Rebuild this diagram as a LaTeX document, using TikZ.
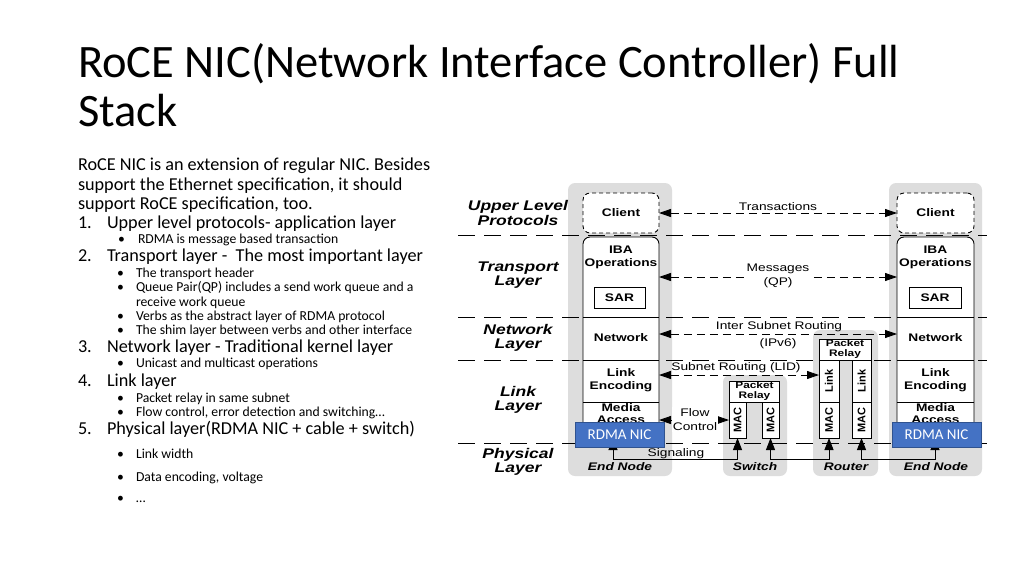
\documentclass[tikz,border=0pt]{standalone}
\usepackage{fontspec}
\setmainfont{Carlito}
\newfontfamily\dgf[FakeStretch=1.25]{Liberation Sans}
\newfontfamily\dgr{Liberation Sans}
\usetikzlibrary{arrows.meta}
\definecolor{panelgray}{RGB}{221,221,221}
\definecolor{nicblue}{RGB}{68,114,196}
\definecolor{nicedge}{RGB}{47,82,143}
\begin{document}
\begin{tikzpicture}[x=1pt,y=-1pt,
  every node/.style={inner sep=0pt, outer sep=0pt},
  title/.style={anchor=base west, font=\fontsize{46.5}{50}\selectfont},
  bodyA/.style={anchor=base west, font=\fontsize{18.2}{20}\selectfont},
  bodyB/.style={anchor=base west, font=\fontsize{13.7}{15}\selectfont},
  layerlbl/.style={font=\dgf\bfseries\itshape\fontsize{14}{14.5}\selectfont, align=center},
  boxlbl/.style={font=\dgf\bfseries\fontsize{11}{12.5}\selectfont, align=center},
  arrlbl/.style={font=\dgf\fontsize{11}{14}\selectfont, align=center},
  smalllbl/.style={font=\dgf\bfseries\fontsize{9.5}{10}\selectfont, align=center},
  vlbl/.style={font=\dgr\bfseries\fontsize{11}{12}\selectfont, rotate=90},
  footlbl/.style={font=\dgf\bfseries\itshape\fontsize{11}{12}\selectfont},
  panel/.style={fill=panelgray, rounded corners=7pt},
  sep/.style={line width=0.9pt, dash pattern=on 17pt off 9pt},
  ln/.style={line width=0.9pt},
  cellbox/.style={draw, line width=0.9pt, fill=white},
  clientbox/.style={draw, line width=0.9pt, fill=white, dash pattern=on 4pt off 3pt, rounded corners=7pt, minimum width=76pt, minimum height=40pt, font=\dgf\bfseries\fontsize{11}{12.5}\selectfont},
  darr/.style={line width=0.9pt, dash pattern=on 8pt off 5pt, {Triangle[length=12pt,width=8pt]}-{Triangle[length=12pt,width=8pt]}},
  sarr/.style={line width=0.9pt, {Triangle[length=12pt,width=9pt]}-{Triangle[length=12pt,width=9pt]}},
  nic/.style={fill=nicblue, draw=nicedge, line width=0.8pt, minimum width=89pt, minimum height=25pt, text=white, font=\fontsize{15}{15}\selectfont},
]
\useasboundingbox (0,0) rectangle (1024,576);
\fill[white] (0,0) rectangle (1024,576);

% ---------- title ----------
\node[title] (ti1) at (78,77) {RoCE NIC(Network Interface Controller) Full};
\node[title] (ti2) at (78,126) {Stack};

% ---------- body text ----------
\node[bodyA] (p1) at (78,170) {RoCE NIC is an extension of regular NIC. Besides};
\node[bodyA] (p2) at (78,190) {support the Ethernet specification, it should};
\node[bodyA] (p3) at (78,209) {support RoCE specification, too.};
\node[bodyA] (n1) at (78,228) {1.};
\node[bodyA] (l1) at (107,228) {Upper level protocols- application layer};
\node[bodyB] (d1) at (118,243) {\textbullet};
\node[bodyB] (s1) at (138,243) {RDMA is message based transaction};
\node[bodyA] (n2) at (78,261) {2.};
\node[bodyA] (l2) at (107,261) {Transport layer -\ \ The most important layer};
\node[bodyB] (d2) at (117,277) {\textbullet};
\node[bodyB] (s2) at (136,277) {The transport header};
\node[bodyB] (d3) at (117,291) {\textbullet};
\node[bodyB] (s3) at (136,291) {Queue Pair(QP) includes a send work queue and a};
\node[bodyB] (s3b) at (136,306) {receive work queue};
\node[bodyB] (d4) at (117,320) {\textbullet};
\node[bodyB] (s4) at (136,320) {Verbs as the abstract layer of RDMA protocol};
\node[bodyB] (d5) at (117,334) {\textbullet};
\node[bodyB] (s5) at (136,334) {The shim layer between verbs and other interface};
\node[bodyA] (n3) at (78,352) {3.};
\node[bodyA] (l3) at (107,352) {Network layer - Traditional kernel layer};
\node[bodyB] (d6) at (117,367) {\textbullet};
\node[bodyB] (s6) at (136,367) {Unicast and multicast operations};
\node[bodyA] (n4) at (78,386) {4.};
\node[bodyA] (l4) at (107,386) {Link layer};
\node[bodyB] (d7) at (117,402) {\textbullet};
\node[bodyB] (s7) at (136,402) {Packet relay in same subnet};
\node[bodyB] (d8) at (117,416) {\textbullet};
\node[bodyB] (s8) at (136,416) {Flow control, error detection and switching…};
\node[bodyA] (n5) at (78,434) {5.};
\node[bodyA] (l5) at (107,434) {Physical layer(RDMA NIC + cable + switch)};
\node[bodyB] (d9) at (117,458) {\textbullet};
\node[bodyB] (s9) at (136,458) {Link width};
\node[bodyB] (d10) at (117,481) {\textbullet};
\node[bodyB] (s10) at (136,481) {Data encoding, voltage};
\node[bodyB] (d11) at (117,502) {\textbullet};
\node[bodyB] (s11) at (136,502) {…};

% ---------- diagram: panels ----------
\fill[panel] (568,183) rectangle (672,476);
\fill[panel] (723,375) rectangle (787,476);
\fill[panel] (813,330) rectangle (878,476);
\fill[panel] (889,183) rectangle (982,476);

% layer separators
\draw[sep] (458,235) -- (987,235);
\draw[sep] (458,317) -- (987,317);
\draw[sep] (458,360) -- (987,360);
\draw[sep] (458,443) -- (987,443);

% layer labels
\node[layerlbl] (lu) at (518,213) {Upper Level\\Protocols};
\node[layerlbl] (lt) at (518,275) {Transport\\Layer};
\node[layerlbl] (ln) at (518,338) {Network\\Layer};
\node[layerlbl] (ll) at (518,400) {Link\\Layer};
\node[layerlbl] (lp) at (518,462) {Physical\\Layer};

% ---------- end node stacks ----------
\node[clientbox] (cliL) at (621,213) {Client};
\draw[ln, fill=white, rounded corners=7pt] (583,444) -- (583,237) -- (659,237) -- (659,444) -- cycle;
\draw[ln] (583,317) -- (659,317);
\draw[ln] (583,360) -- (659,360);
\draw[ln] (583,402) -- (659,402);
\node[boxlbl] (ibaL) at (621,257.5) {IBA\\Operations};
\node[boxlbl, cellbox, minimum width=51pt, minimum height=21pt] (sarL) at (619.5,297.5) {SAR};
\node[boxlbl] (netL) at (621,338) {Network};
\node[boxlbl] (lencL) at (621,380) {Link\\Encoding};
\node[boxlbl] (maL) at (621,413.5) {Media\\Access};

\node[clientbox, minimum width=77pt] (cliR) at (935.5,213) {Client};
\draw[ln, fill=white, rounded corners=7pt] (897,444) -- (897,237) -- (974,237) -- (974,444) -- cycle;
\draw[ln] (897,317) -- (974,317);
\draw[ln] (897,360) -- (974,360);
\draw[ln] (897,402) -- (974,402);
\node[boxlbl] (ibaR) at (935.5,257.5) {IBA\\Operations};
\node[boxlbl, cellbox, minimum width=52pt, minimum height=21pt] (sarR) at (935,297.5) {SAR};
\node[boxlbl] (netR) at (935.5,338) {Network};
\node[boxlbl] (lencR) at (935.5,380) {Link\\Encoding};
\node[boxlbl] (maR) at (935.5,413.5) {Media\\Access};

% ---------- switch ----------
\node[smalllbl, cellbox, minimum width=50pt, minimum height=21pt] (srel) at (754.5,391.5) {Packet\\Relay};
\node[cellbox, minimum width=17pt, minimum height=36pt] (smac1) at (737.5,420) {};
\node[cellbox, minimum width=17pt, minimum height=36pt] (smac2) at (770.5,420) {};
\node[vlbl] (smac1t) at (smac1) {MAC};
\node[vlbl] (smac2t) at (smac2) {MAC};

% ---------- router ----------
\node[smalllbl, cellbox, minimum width=52pt, minimum height=21pt] (rrel) at (845,349.5) {Packet\\Relay};
\node[cellbox, minimum width=20pt, minimum height=42pt] (rlink1) at (829,381) {};
\node[cellbox, minimum width=19pt, minimum height=42pt] (rlink2) at (861.5,381) {};
\node[cellbox, minimum width=20pt, minimum height=36pt] (rmac1) at (829,420) {};
\node[cellbox, minimum width=19pt, minimum height=36pt] (rmac2) at (861.5,420) {};
\node[vlbl] (rlink1t) at (rlink1) {Link};
\node[vlbl] (rlink2t) at (rlink2) {Link};
\node[vlbl] (rmac1t) at (rmac1) {MAC};
\node[vlbl] (rmac2t) at (rmac2) {MAC};

% ---------- connector end points ----------
\coordinate (trL) at (659,277);
\coordinate (trR) at (897,277);
\coordinate (nwL) at (659,334);
\coordinate (nwR) at (897,334);
\coordinate (lkL) at (659,375);
\coordinate (lkRt) at (819,375);
\coordinate (fcL) at (659,420);
\coordinate (sigL) at (613,438);
\coordinate (sigR) at (935,438);

% ---------- peer connectors ----------
\draw[darr] (cliL.east) -- (cliR.west);
\draw[darr] (trL) -- (trR);
\draw[darr] (nwL) -- (nwR);
\draw[darr] (lkL) -- (lkRt);
\draw[darr] (fcL) -- (smac1.west);

\node[arrlbl] (lbTr) at (778,207) {Transactions};
\node[arrlbl, fill=white, inner sep=1pt] (lbMs) at (778,276) {Messages\\(QP)};
\node[arrlbl] (lbIs1) at (779,327) {Inter Subnet Routing};
\node[arrlbl] (lbIs2) at (778,343.5) {(IPv6)};
\node[arrlbl] (lbSr) at (736,368) {Subnet Routing (LID)};
\node[arrlbl, fill=white, inner sep=1pt] (lbFc) at (695,419.5) {Flow\\Control};

% signaling
\draw[sarr] (sigL) -- ++(0,21) -| (smac1.south);
\draw[sarr] (smac2.south) -- ++(0,21) -| (rmac1.south);
\draw[sarr] (rmac2.south) -- ++(0,21) -| (sigR);
\node[arrlbl] (lbSg) at (676,454) {Signaling};

% RDMA NIC boxes
\node[nic] (nicL) at (619.5,434.5) {RDMA NIC};
\node[nic] (nicR) at (936.5,434.5) {RDMA NIC};

% foot labels
\node[footlbl] (fL) at (620,467) {End Node};
\node[footlbl] (fS) at (755,467) {Switch};
\node[footlbl] (fRt) at (846,467) {Router};
\node[footlbl] (fR) at (936,467) {End Node};
\end{tikzpicture}
\end{document}
